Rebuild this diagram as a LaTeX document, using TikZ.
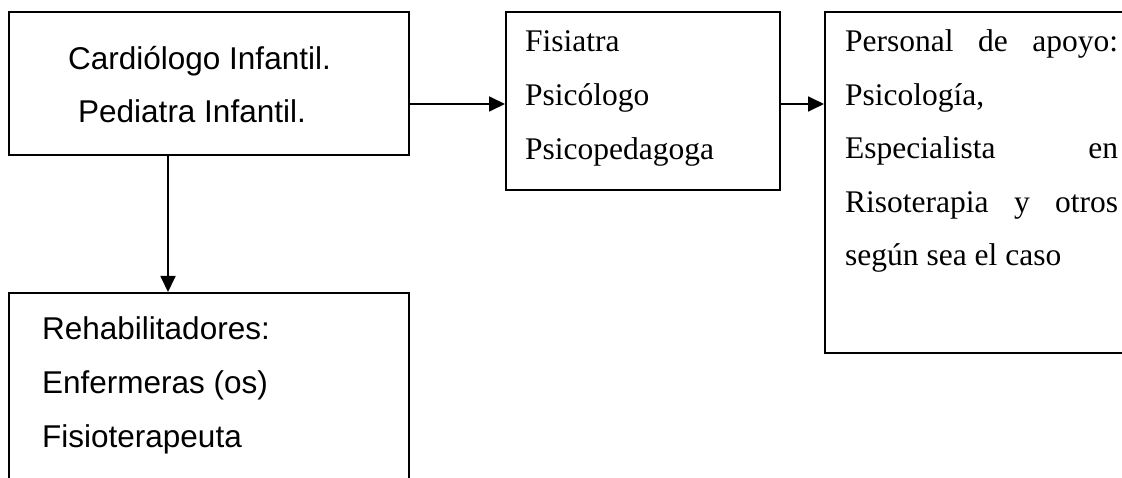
\documentclass[tikz,border=0pt]{standalone}
\usepackage{fontspec}
\setmainfont{Liberation Serif}
\newfontfamily\arialf{Liberation Sans}
\usetikzlibrary{arrows.meta}
\begin{document}
\begin{tikzpicture}[x=1pt,y=-1pt,
  box/.style={draw,line width=1.8pt,rectangle,inner sep=0pt,anchor=north west},
  sanstxt/.style={inner sep=0pt,anchor=base west,font=\arialf\fontsize{31.5}{38}\selectfont},
  seriftxt/.style={inner sep=0pt,anchor=base west,font=\fontsize{31.5}{38}\selectfont},
  arr/.style={line width=1.8pt,-{Triangle[length=16pt,width=15pt]}}]
\useasboundingbox (0,0) rectangle (1122,478);
\clip (0,0) rectangle (1122,478);
\fill[white] (0,0) rectangle (1122,478);
% boxes
\node[box,minimum width=400pt,minimum height=143pt] (A) at (8,11) {};
\node[box,minimum width=274pt,minimum height=178pt] (B) at (505,11) {};
\node[box,minimum width=310pt,minimum height=341pt] (C) at (824,11) {};
\node[box,minimum width=400pt,minimum height=210pt] (D) at (8,292) {};
% texts
\node[sanstxt] (a1) at (68,70) {Cardiólogo Infantil.};
\node[sanstxt] (a2) at (78,123) {Pediatra Infantil.};
\node[seriftxt] (b1) at (525,52) {Fisiatra};
\node[seriftxt] (b2) at (525,106) {Psicólogo};
\node[seriftxt] (b3) at (525,160) {Psicopedagoga};
\node[seriftxt] (c1) at (845,52) {\hbox to 273pt{Personal\hfill de\hfill apoyo:}};
\node[seriftxt] (c2) at (845,105.5) {Psicología,};
\node[seriftxt] (c3) at (845,159) {\hbox to 273pt{Especialista\hfill en}};
\node[seriftxt] (c4) at (845,212.5) {\hbox to 273pt{Risoterapia\hfill y\hfill otros}};
\node[seriftxt] (c5) at (845,266) {según sea el caso};
\node[sanstxt] (d1) at (42,340) {Rehabilitadores:};
\node[sanstxt] (d2) at (42,393) {Enfermeras (os)};
\node[sanstxt] (d3) at (42,447) {Fisioterapeuta};
% connectors
\coordinate (ya) at (0,104);
\coordinate (xa) at (168,0);
\draw[arr] (A.east |- ya) -- (B.west |- ya);
\draw[arr] (B.east |- ya) -- (C.west |- ya);
\draw[arr] (A.south -| xa) -- (D.north -| xa);
\end{tikzpicture}
\end{document}
